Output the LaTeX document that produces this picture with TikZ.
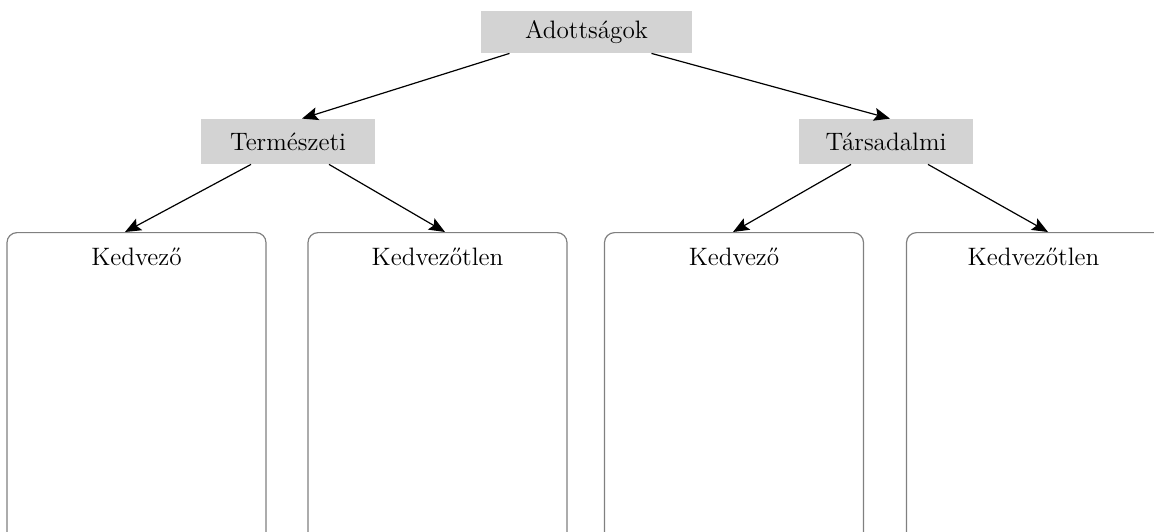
\documentclass[tikz,border=0pt]{standalone}
\usepackage{fontspec}
\usetikzlibrary{arrows.meta,calc}
\definecolor{boxgray}{RGB}{211,211,211}
\definecolor{framegray}{RGB}{128,128,128}

\begin{document}
\begin{tikzpicture}[x=0.5pt,y=-0.5pt,
  every node/.style={font=\fontsize{12.6}{15}\selectfont},
  head/.style={fill=boxgray, inner sep=0pt, minimum height=21pt},
  column/.style={draw=framegray, line width=0.6pt, rounded corners=5pt,
    minimum width=129.5pt, minimum height=175pt, anchor=north},
  arr/.style={-{Stealth[length=8pt,width=6.5pt,inset=1.5pt]}, line width=0.6pt}]
\useasboundingbox (0,0) rectangle (1154,531);
\clip (0,0) rectangle (1154,531);

% header boxes
\node[head, minimum width=105.5pt] (adott) at (586.5,32) {Adottságok};
\node[head, minimum width=87pt, minimum height=22.5pt] (term) at (288,141.5) {Természeti};
\node[head, minimum width=87pt, minimum height=22.5pt] (tars) at (886,141.5) {Társadalmi};

% columns
\node[column] (tkedv) at (136.5,232) {};
\node[column] (tkedvtl) at (437.5,232) {};
\node[column] (skedv) at (734,232) {};
\node[column] (skedvtl) at (1036,232) {};

\node (tkedvlab) at ($(tkedv.north)+(0,25)$) {Kedvező};
\node (tkedvtllab) at ($(tkedvtl.north)+(0,25)$) {Kedvezőtlen};
\node (skedvlab) at ($(skedv.north)+(0,25)$) {Kedvező};
\node (skedvtllab) at ($(skedvtl.north)+(-2.5,25)$) {Kedvezőtlen};

% arrows
\draw[arr] ($(adott.south)+(-77,0)$) -- ($(term.north)+(14,0)$);
\draw[arr] ($(adott.south)+(65,0)$) -- ($(tars.north)+(4,0)$);
\draw[arr] ($(term.south)+(-37,0)$) -- ($(tkedv.north)+(-11.5,0)$);
\draw[arr] ($(term.south)+(41,0)$) -- ($(tkedvtl.north)+(7.5,0)$);
\draw[arr] ($(tars.south)+(-35,0)$) -- ($(skedv.north)+(-1,0)$);
\draw[arr] ($(tars.south)+(42,0)$) -- ($(skedvtl.north)+(12,0)$);
\end{tikzpicture}
\end{document}
